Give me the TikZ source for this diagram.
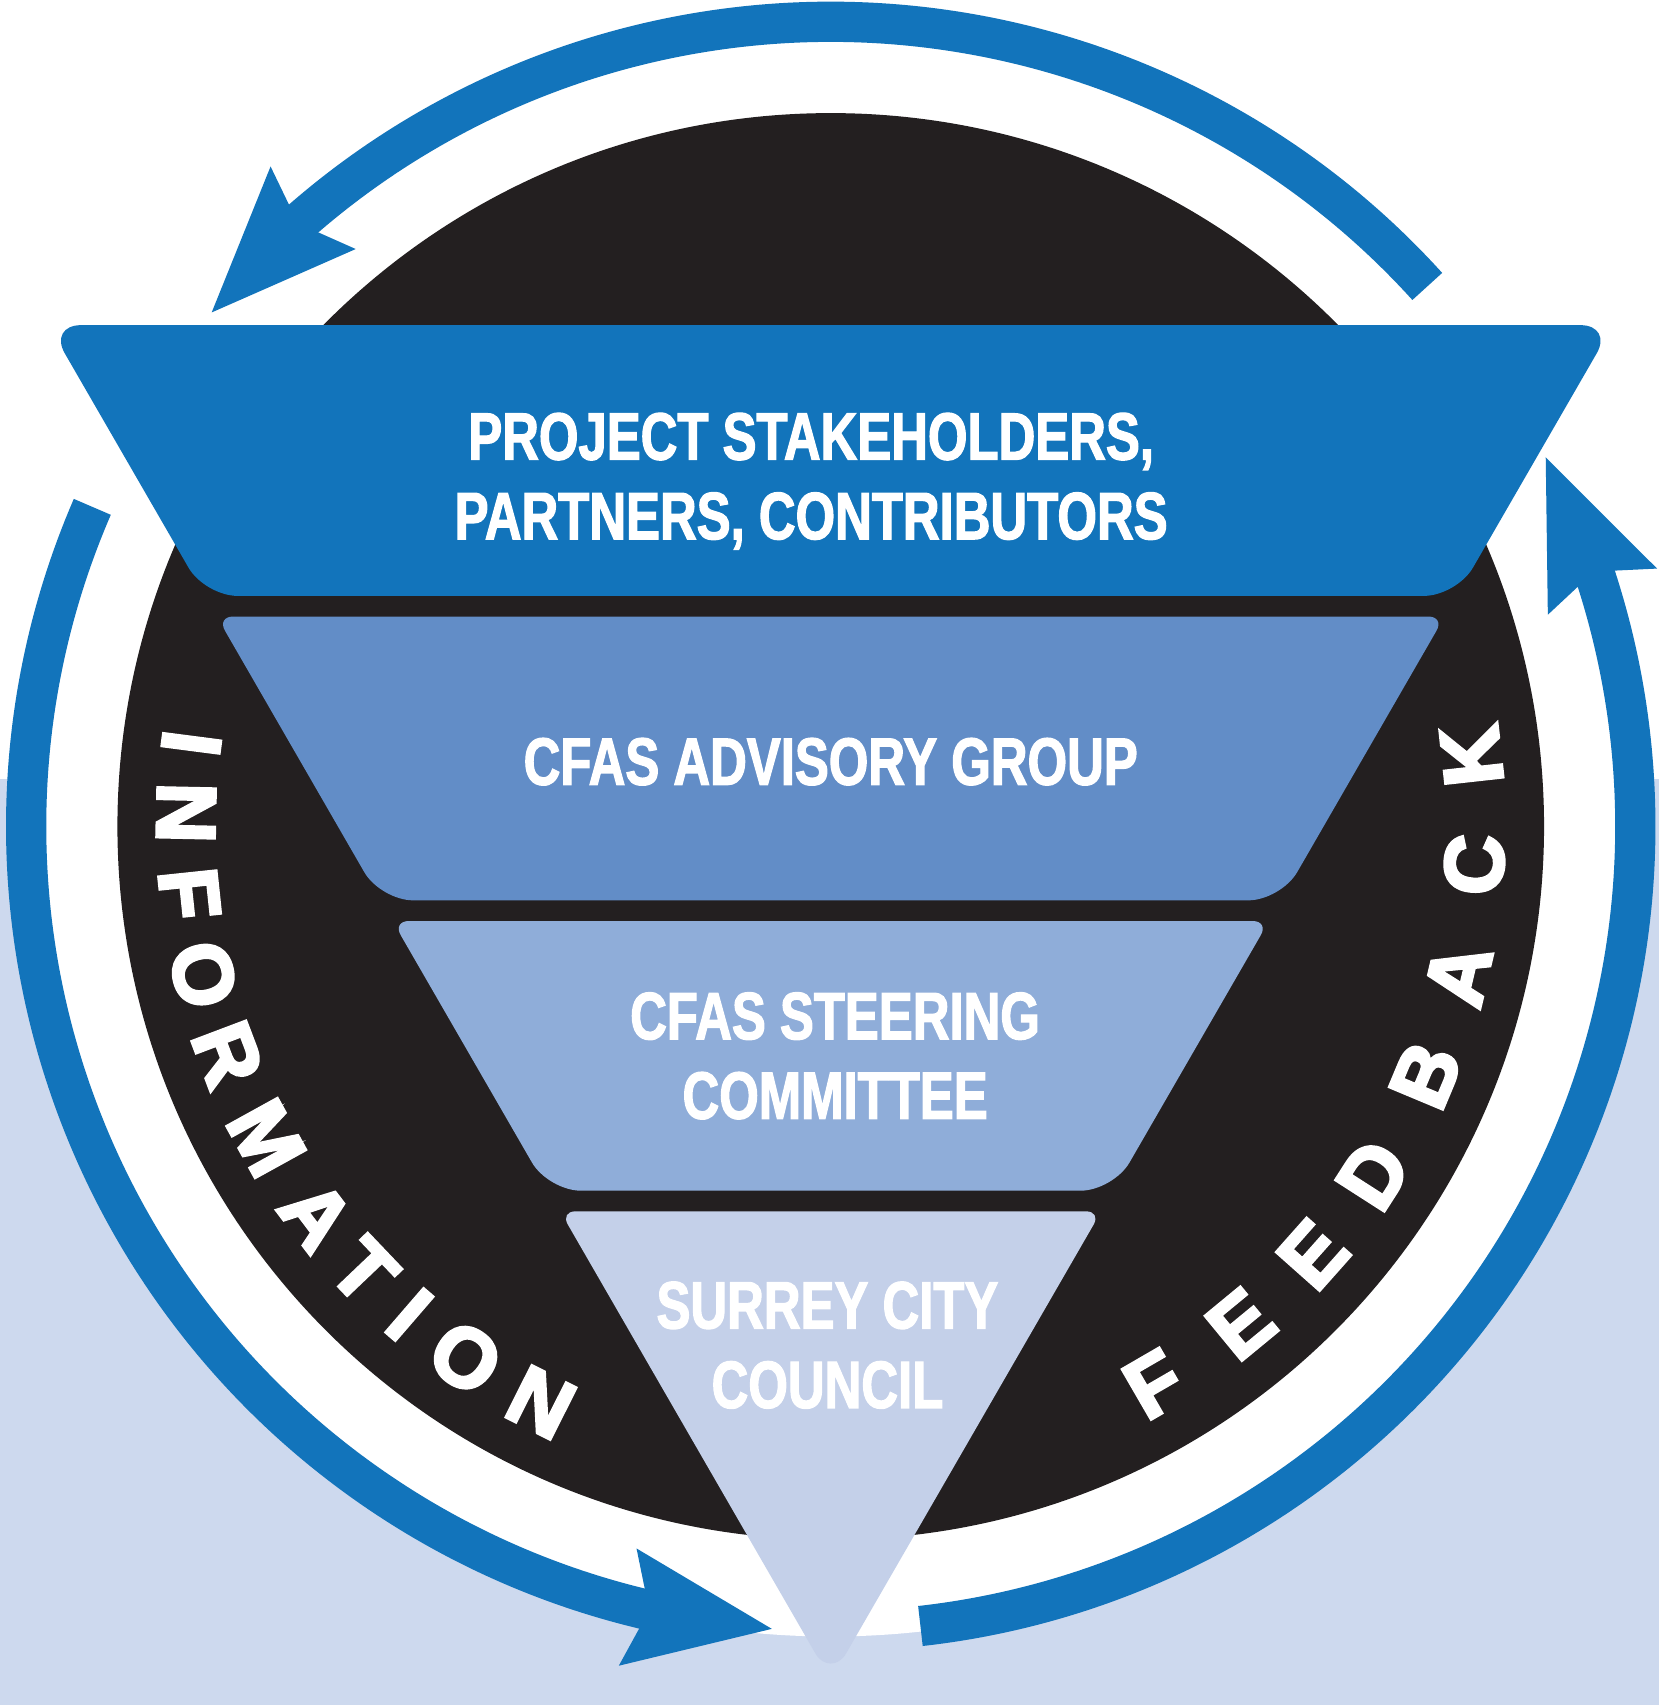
\documentclass[tikz,border=0pt]{standalone}
\usepackage{fontspec}
\setmainfont{Liberation Sans}
\newfontfamily\narrowsans[FakeStretch=0.76, FakeBold=1.8]{Liberation Sans}
\newfontfamily\ringsans[FakeBold=4]{Liberation Sans}
\usetikzlibrary{arrows.meta, bending}

\definecolor{cfasblue}{HTML}{1274BB}
\definecolor{advisoryblue}{HTML}{628DC7}
\definecolor{steeringblue}{HTML}{8FADD9}
\definecolor{councilblue}{HTML}{C4D0E9}
\definecolor{groundblue}{HTML}{CDD9EE}
\definecolor{ringblack}{HTML}{231F20}

\begin{document}
\begin{tikzpicture}[x=0.01cm, y=0.01cm,
    >={Stealth[length=1.34cm, width=1.09cm, inset=2mm, line width=0pt, flex]},
    cycle arrow/.style={draw=cfasblue, line width=3.7mm, ->},
    tier label/.style={text=white, align=center, anchor=north, inner sep=0pt,
      font=\narrowsans\bfseries\fontsize{17.5}{20.8}\selectfont},
    ring letter/.style={text=white, inner sep=0pt,
      font=\ringsans\bfseries\fontsize{21.8}{21.8}\selectfont}]

  % backdrop: white above, pale blue below
  \useasboundingbox (-764,-808) rectangle (762,760);
  \fill[white] (-764,-808) rectangle (762,760);
  \fill[groundblue] (-764,-808) rectangle (762,44);

  % white disc with the black ring on it
  \coordinate (hub) at (0,0);
  \fill[white] (hub) circle[radius=745];
  \fill[ringblack] (hub) circle[radius=656];

  % the three arrows running round the ring
  \draw[cycle arrow] (42.15:740) arc[start angle=42.15, end angle=140.3, radius=740];
  \draw[cycle arrow] (156.6:740) arc[start angle=156.6, end angle=265.8, radius=740];
  \draw[cycle arrow] (-83.6:740) arc[start angle=-83.6, end angle=27.3, radius=740];

  % funnel tiers, cut from one triangle
  \fill[cfasblue, rounded corners=3mm] (0,461) -- (719.4,461) -- (575.6,212) -- (-575.6,212) -- (-719.4,461) -- cycle;
  \fill[advisoryblue] (0,193) [rounded corners=1.5mm] -- (564.6,193) [rounded corners=3mm] -- (414,-68)
    -- (-414,-68) [rounded corners=1.5mm] -- (-564.6,193) -- cycle;
  \fill[steeringblue] (0,-87) [rounded corners=1.5mm] -- (403,-87) [rounded corners=3mm] -- (259.8,-335)
    -- (-259.8,-335) [rounded corners=1.5mm] -- (-403,-87) -- cycle;
  \fill[councilblue, rounded corners=1.4mm] (0,-354) -- (248.8,-354) -- (21,-748.6)
    .. controls (7,-772.9) and (-7,-772.9) .. (-21,-748.6) -- (-248.8,-354) -- cycle;

  \node[tier label] (stakeholders) at (-18,381) {PROJECT STAKEHOLDERS,\\PARTNERS, CONTRIBUTORS};
  \node[tier label] (advisory) at (0,82) {CFAS ADVISORY GROUP};
  \node[tier label] (steering) at (4,-152) {CFAS STEERING\\COMMITTEE};
  \node[tier label] (council) at (-3,-418) {SURREY CITY\\COUNCIL};

  % lettering round the ring
  \foreach \ch/\ang [count=\i] in {I/172.6, N/178.8, F/186, O/193.3, R/200.7, M/208.9,
      A/217.1, T/223.6, I/229.2, O/235.5, N/243.3}
    \node[ring letter, rotate=\ang+90] (info-\i) at (\ang:593) {\ch};
  \foreach \ch/\ang [count=\i] in {F/300.1, E/309.5, E/318.4, D/327.3, B/337.3, A/346.7,
      C/356.6, K/6.3}
    \node[ring letter, rotate=\ang+90] (feedback-\i) at (\ang:593) {\ch};
\end{tikzpicture}
\end{document}
